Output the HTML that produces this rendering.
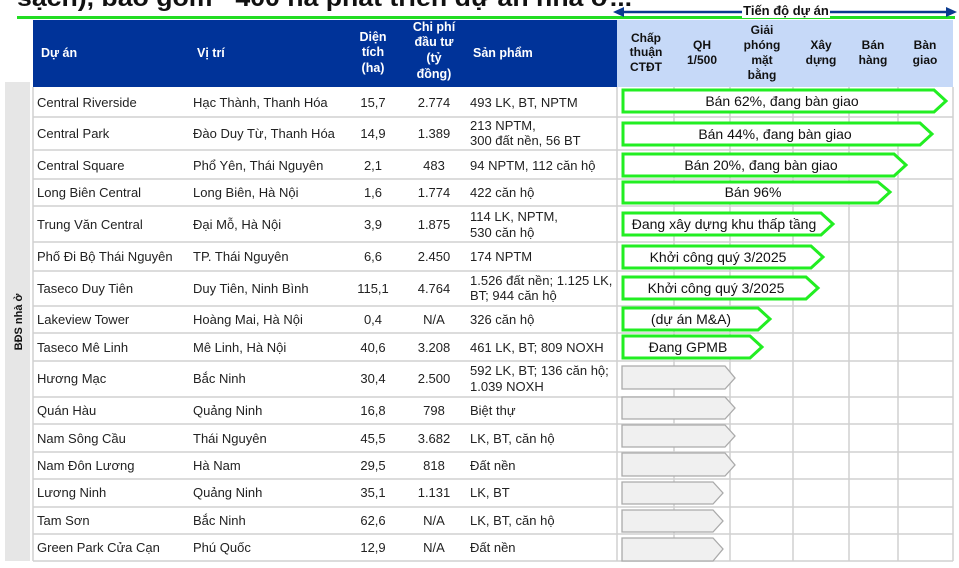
<!DOCTYPE html>
<html><head><meta charset="utf-8"><style>
html,body{margin:0;padding:0;background:#fff;}
svg{display:block;font-family:"Liberation Sans",sans-serif;}
.t{font-size:13px;fill:#222;}
.h{font-size:12.5px;fill:#fff;font-weight:bold;}
.hb{font-size:12px;fill:#111;font-weight:bold;}
.g{font-size:14px;fill:#111;}
</style></head><body>
<svg width="959" height="568" viewBox="0 0 959 568">
<text x="17" y="6" font-size="24" font-weight="bold" fill="#111" textLength="615" lengthAdjust="spacingAndGlyphs">sạch), bao gồm ~400 ha phát triển dự án nhà ở...</text>
<rect x="17" y="16" width="938" height="3" fill="#22dd22"/>
<line x1="622" y1="12" x2="948" y2="12" stroke="#0a3a8f" stroke-width="2.5"/>
<polygon points="613,12 624,7 624,17" fill="#0a3a8f"/>
<polygon points="957,12 946,7 946,17" fill="#0a3a8f"/>
<rect x="742" y="3" width="88" height="15" fill="#fff"/>
<text x="786" y="15" text-anchor="middle" font-size="13" font-weight="bold" fill="#111">Tiến độ dự án</text>
<rect x="33" y="20" width="584" height="67" fill="#003399"/>
<rect x="617" y="20" width="336" height="67" fill="#c6d9f8"/>
<g class="h">
<text x="41" y="57">Dự án</text>
<text x="197" y="57">Vị trí</text>
<text x="373" y="41" text-anchor="middle">Diện</text>
<text x="373" y="56" text-anchor="middle">tích</text>
<text x="373" y="72" text-anchor="middle">(ha)</text>
<text x="434" y="31" text-anchor="middle">Chi phí</text>
<text x="434" y="46" text-anchor="middle">đầu tư</text>
<text x="434" y="62" text-anchor="middle">(tỷ</text>
<text x="434" y="78" text-anchor="middle">đồng)</text>
<text x="473" y="57">Sản phẩm</text>
</g>
<g class="hb" text-anchor="middle">
<text x="646" y="42">Chấp</text><text x="646" y="56">thuận</text><text x="646" y="71">CTĐT</text>
<text x="702" y="49">QH</text><text x="702" y="64">1/500</text>
<text x="762" y="34">Giải</text><text x="762" y="49">phóng</text><text x="762" y="64">mặt</text><text x="762" y="79">bằng</text>
<text x="821" y="49">Xây</text><text x="821" y="64">dựng</text>
<text x="873" y="49">Bán</text><text x="873" y="64">hàng</text>
<text x="925" y="49">Bàn</text><text x="925" y="64">giao</text>
</g>
<rect x="5" y="82" width="25" height="479" fill="#e6e6e6"/>
<text transform="translate(22,322) rotate(-90)" text-anchor="middle" font-size="11" font-weight="bold" fill="#111">BĐS nhà ở</text>
<g stroke="#d0d0d0" stroke-width="1.5">
<line x1="33" y1="87" x2="33" y2="561"/>
<line x1="617" y1="87" x2="617" y2="561"/>
<line x1="674" y1="87" x2="674" y2="561"/>
<line x1="730" y1="87" x2="730" y2="561"/>
<line x1="793" y1="87" x2="793" y2="561"/>
<line x1="849" y1="87" x2="849" y2="561"/>
<line x1="898" y1="87" x2="898" y2="561"/>
<line x1="953" y1="87" x2="953" y2="561"/>
<line x1="33" y1="117" x2="953" y2="117"/><line x1="33" y1="150" x2="953" y2="150"/>
<line x1="33" y1="179" x2="953" y2="179"/><line x1="33" y1="206" x2="953" y2="206"/>
<line x1="33" y1="242" x2="953" y2="242"/><line x1="33" y1="271" x2="953" y2="271"/>
<line x1="33" y1="306" x2="953" y2="306"/><line x1="33" y1="333" x2="953" y2="333"/>
<line x1="33" y1="361" x2="953" y2="361"/><line x1="33" y1="397" x2="953" y2="397"/>
<line x1="33" y1="424" x2="953" y2="424"/><line x1="33" y1="452" x2="953" y2="452"/>
<line x1="33" y1="479" x2="953" y2="479"/><line x1="33" y1="507" x2="953" y2="507"/>
<line x1="33" y1="534" x2="953" y2="534"/><line x1="33" y1="561" x2="953" y2="561"/>
</g>
<g class="t">
<text x="37" y="107">Central Riverside</text><text x="193" y="107">Hạc Thành, Thanh Hóa</text><text x="373" y="107" text-anchor="middle">15,7</text><text x="434" y="107" text-anchor="middle">2.774</text><text x="470" y="107">493 LK, BT, NPTM</text>
<text x="37" y="138">Central Park</text><text x="193" y="138">Đào Duy Từ, Thanh Hóa</text><text x="373" y="138" text-anchor="middle">14,9</text><text x="434" y="138" text-anchor="middle">1.389</text><text x="470" y="130">213 NPTM,</text><text x="470" y="145">300 đất nền, 56 BT</text>
<text x="37" y="170">Central Square</text><text x="193" y="170">Phổ Yên, Thái Nguyên</text><text x="373" y="170" text-anchor="middle">2,1</text><text x="434" y="170" text-anchor="middle">483</text><text x="470" y="170">94 NPTM, 112 căn hộ</text>
<text x="37" y="197">Long Biên Central</text><text x="193" y="197">Long Biên, Hà Nội</text><text x="373" y="197" text-anchor="middle">1,6</text><text x="434" y="197" text-anchor="middle">1.774</text><text x="470" y="197">422 căn hộ</text>
<text x="37" y="229">Trung Văn Central</text><text x="193" y="229">Đại Mỗ, Hà Nội</text><text x="373" y="229" text-anchor="middle">3,9</text><text x="434" y="229" text-anchor="middle">1.875</text><text x="470" y="221">114 LK, NPTM,</text><text x="470" y="237">530 căn hộ</text>
<text x="37" y="261">Phố Đi Bộ Thái Nguyên</text><text x="193" y="261">TP. Thái Nguyên</text><text x="373" y="261" text-anchor="middle">6,6</text><text x="434" y="261" text-anchor="middle">2.450</text><text x="470" y="261">174 NPTM</text>
<text x="37" y="293">Taseco Duy Tiên</text><text x="193" y="293">Duy Tiên, Ninh Bình</text><text x="373" y="293" text-anchor="middle">115,1</text><text x="434" y="293" text-anchor="middle">4.764</text><text x="470" y="285">1.526 đất nền; 1.125 LK,</text><text x="470" y="300">BT; 944 căn hộ</text>
<text x="37" y="324">Lakeview Tower</text><text x="193" y="324">Hoàng Mai, Hà Nội</text><text x="373" y="324" text-anchor="middle">0,4</text><text x="434" y="324" text-anchor="middle">N/A</text><text x="470" y="324">326 căn hộ</text>
<text x="37" y="352">Taseco Mê Linh</text><text x="193" y="352">Mê Linh, Hà Nội</text><text x="373" y="352" text-anchor="middle">40,6</text><text x="434" y="352" text-anchor="middle">3.208</text><text x="470" y="352">461 LK, BT; 809 NOXH</text>
<text x="37" y="383">Hương Mạc</text><text x="193" y="383">Bắc Ninh</text><text x="373" y="383" text-anchor="middle">30,4</text><text x="434" y="383" text-anchor="middle">2.500</text><text x="470" y="375">592 LK, BT; 136 căn hộ;</text><text x="470" y="391">1.039 NOXH</text>
<text x="37" y="415">Quán Hàu</text><text x="193" y="415">Quảng Ninh</text><text x="373" y="415" text-anchor="middle">16,8</text><text x="434" y="415" text-anchor="middle">798</text><text x="470" y="415">Biệt thự</text>
<text x="37" y="443">Nam Sông Cầu</text><text x="193" y="443">Thái Nguyên</text><text x="373" y="443" text-anchor="middle">45,5</text><text x="434" y="443" text-anchor="middle">3.682</text><text x="470" y="443">LK, BT, căn hộ</text>
<text x="37" y="470">Nam Đôn Lương</text><text x="193" y="470">Hà Nam</text><text x="373" y="470" text-anchor="middle">29,5</text><text x="434" y="470" text-anchor="middle">818</text><text x="470" y="470">Đất nền</text>
<text x="37" y="497">Lương Ninh</text><text x="193" y="497">Quảng Ninh</text><text x="373" y="497" text-anchor="middle">35,1</text><text x="434" y="497" text-anchor="middle">1.131</text><text x="470" y="497">LK, BT</text>
<text x="37" y="525">Tam Sơn</text><text x="193" y="525">Bắc Ninh</text><text x="373" y="525" text-anchor="middle">62,6</text><text x="434" y="525" text-anchor="middle">N/A</text><text x="470" y="525">LK, BT, căn hộ</text>
<text x="37" y="552">Green Park Cửa Cạn</text><text x="193" y="552">Phú Quốc</text><text x="373" y="552" text-anchor="middle">12,9</text><text x="434" y="552" text-anchor="middle">N/A</text><text x="470" y="552">Đất nền</text>
</g>
<g fill="#fff" stroke="#22ee22" stroke-width="3">
<polygon points="623,90 934,90 946,101 934,112 623,112"/>
<polygon points="623,123 920,123 932,134 920,145 623,145"/>
<polygon points="623,154 894,154 906,165 894,176 623,176"/>
<polygon points="623,182 878,182 890,192 878,203 623,203"/>
<polygon points="623,213 821,213 833,224 821,235 623,235"/>
<polygon points="623,246 811,246 823,257 811,268 623,268"/>
<polygon points="623,277 806,277 818,288 806,299 623,299"/>
<polygon points="623,308 758,308 770,319 758,330 623,330"/>
<polygon points="623,336 750,336 762,347 750,358 623,358"/>
</g>
<g class="g" text-anchor="middle">
<text x="782" y="106">Bán 62%, đang bàn giao</text>
<text x="775" y="139">Bán 44%, đang bàn giao</text>
<text x="761" y="170">Bán 20%, đang bàn giao</text>
<text x="753" y="197">Bán 96%</text>
<text x="724" y="229">Đang xây dựng khu thấp tầng</text>
<text x="718" y="262">Khởi công quý 3/2025</text>
<text x="716" y="293">Khởi công quý 3/2025</text>
<text x="691" y="324">(dự án M&amp;A)</text>
<text x="688" y="352">Đang GPMB</text>
</g>
<g fill="#f0f0f0" stroke="#aaa" stroke-width="1.3">
<polygon points="622,366 725,366 735,378 725,389 622,389"/>
<polygon points="622,397 725,397 735,408 725,419 622,419"/>
<polygon points="622,425 725,425 735,436 725,447 622,447"/>
<polygon points="622,453 725,453 735,465 725,476 622,476"/>
<polygon points="622,482 713,482 723,493 713,504 622,504"/>
<polygon points="622,510 713,510 723,521 713,532 622,532"/>
<polygon points="622,538 713,538 723,549 713,561 622,561"/>
</g>
</svg>
</body></html>
